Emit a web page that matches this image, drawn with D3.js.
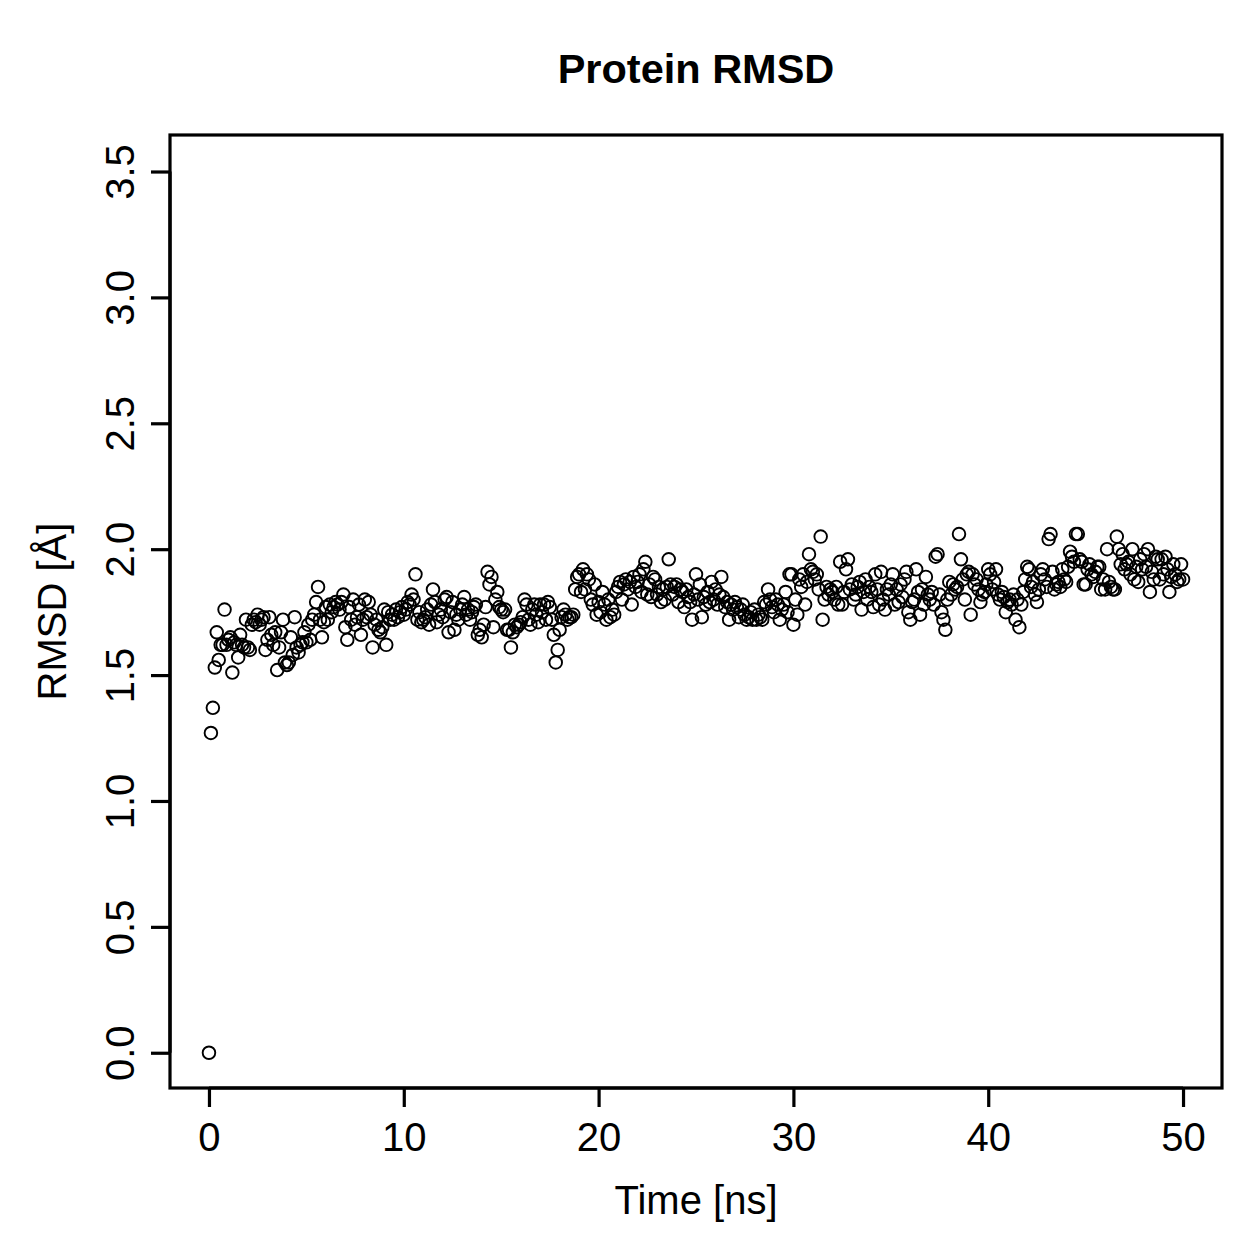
<!DOCTYPE html>
<html><head><meta charset="utf-8">
<script src="https://cdn.jsdelivr.net/npm/d3@7"></script>
<style>body{margin:0;background:#fff}</style>
</head><body>
<script>
const titleText = "Protein RMSD";
const xLabel = "Time [ns]";
const yLabel = "RMSD [Å]";
const xTicks = [0, 10, 20, 30, 40, 50];
const yTicks = [0.0, 0.5, 1.0, 1.5, 2.0, 2.5, 3.0, 3.5];
const timeStep = 0.1;
const rmsd = [
0.00,1.27,1.37,1.53,1.67,1.56,1.62,1.62,1.76,1.62,
1.64,1.65,1.51,1.63,1.62,1.57,1.66,1.62,1.61,1.72,
1.61,1.60,1.70,1.72,1.71,1.74,1.70,1.72,1.73,1.60,
1.64,1.73,1.66,1.62,1.67,1.52,1.61,1.67,1.72,1.55,
1.54,1.55,1.65,1.58,1.73,1.61,1.59,1.62,1.63,1.67,
1.63,1.70,1.64,1.72,1.74,1.79,1.85,1.72,1.65,1.71,
1.77,1.72,1.78,1.75,1.77,1.79,1.78,1.76,1.79,1.82,
1.69,1.64,1.77,1.72,1.80,1.70,1.73,1.78,1.66,1.72,
1.80,1.73,1.79,1.74,1.61,1.70,1.72,1.68,1.67,1.69,
1.76,1.62,1.75,1.72,1.74,1.72,1.76,1.73,1.75,1.77,
1.74,1.76,1.79,1.78,1.82,1.80,1.90,1.72,1.75,1.71,
1.72,1.73,1.76,1.70,1.78,1.84,1.79,1.71,1.74,1.76,
1.73,1.80,1.81,1.67,1.75,1.79,1.68,1.74,1.72,1.76,
1.78,1.81,1.74,1.76,1.72,1.75,1.77,1.78,1.66,1.68,
1.65,1.70,1.77,1.91,1.86,1.89,1.69,1.80,1.83,1.77,
1.76,1.75,1.76,1.68,1.68,1.61,1.67,1.70,1.69,1.70,
1.71,1.73,1.80,1.78,1.72,1.70,1.76,1.78,1.74,1.71,
1.78,1.75,1.78,1.72,1.79,1.77,1.72,1.66,1.55,1.60,
1.68,1.73,1.76,1.74,1.72,1.73,1.73,1.74,1.84,1.89,
1.90,1.83,1.92,1.84,1.90,1.88,1.80,1.78,1.86,1.74,
1.79,1.75,1.83,1.78,1.72,1.80,1.73,1.76,1.74,1.83,
1.85,1.87,1.80,1.86,1.88,1.84,1.87,1.78,1.89,1.85,
1.87,1.90,1.83,1.92,1.95,1.82,1.86,1.81,1.89,1.88,
1.82,1.85,1.79,1.84,1.80,1.85,1.96,1.86,1.82,1.85,
1.86,1.79,1.84,1.83,1.77,1.84,1.81,1.79,1.72,1.82,
1.90,1.80,1.86,1.73,1.81,1.78,1.83,1.79,1.87,1.80,
1.84,1.78,1.82,1.89,1.81,1.77,1.79,1.72,1.78,1.76,
1.79,1.77,1.73,1.76,1.78,1.74,1.72,1.73,1.75,1.72,
1.76,1.72,1.74,1.73,1.72,1.79,1.78,1.84,1.80,1.77,
1.75,1.80,1.78,1.72,1.76,1.78,1.83,1.75,1.90,1.90,
1.70,1.80,1.74,1.88,1.85,1.90,1.78,1.87,1.98,1.92,
1.91,1.88,1.90,1.84,2.05,1.72,1.80,1.85,1.82,1.84,
1.83,1.80,1.85,1.78,1.95,1.78,1.83,1.92,1.96,1.84,
1.86,1.80,1.82,1.85,1.87,1.76,1.83,1.88,1.80,1.85,
1.83,1.77,1.90,1.84,1.78,1.91,1.80,1.76,1.84,1.82,
1.86,1.90,1.78,1.84,1.79,1.86,1.81,1.88,1.91,1.75,
1.72,1.79,1.80,1.92,1.83,1.74,1.84,1.78,1.89,1.82,
1.80,1.83,1.78,1.97,1.98,1.82,1.75,1.72,1.68,1.80,
1.87,1.82,1.86,1.84,1.85,2.06,1.96,1.88,1.80,1.90,
1.91,1.74,1.90,1.86,1.88,1.84,1.79,1.82,1.83,1.86,
1.92,1.90,1.84,1.87,1.92,1.82,1.80,1.83,1.81,1.75,
1.79,1.80,1.78,1.82,1.72,1.80,1.69,1.78,1.83,1.88,
1.93,1.92,1.85,1.87,1.82,1.79,1.84,1.90,1.92,1.88,
1.85,2.04,2.06,1.91,1.84,1.86,1.87,1.85,1.92,1.88,
1.87,1.93,1.99,1.97,1.95,2.06,2.06,1.96,1.95,1.86,
1.86,1.92,1.94,1.90,1.89,1.91,1.93,1.93,1.84,1.88,
1.84,2.00,1.87,1.85,1.84,1.84,2.05,2.00,1.94,1.98,
1.92,1.94,1.95,1.90,2.00,1.88,1.93,1.87,1.96,1.92,
1.98,1.93,2.00,1.83,1.91,1.88,1.97,1.96,1.88,1.96,
1.90,1.97,1.92,1.83,1.89,1.94,1.90,1.87,1.88,1.94,
1.88
];
const data = rmsd.map((v, i) => ({t: +(i * timeStep).toFixed(1), r: v}));

const W = 1259, H = 1259;
const box = {left: 170, right: 1222, top: 135, bottom: 1088};
const font = "'Liberation Sans', Arial, Helvetica, sans-serif";

const svg = d3.select("body").append("svg").attr("width", W).attr("height", H)
  .style("background", "#fff");

// R-style 4% domain extension
const x = d3.scaleLinear().domain([-2, 52]).range([box.left, box.right]);
const y = d3.scaleLinear().domain([-0.14, 3.645]).range([box.bottom, box.top]);

// points
svg.append("g").selectAll("circle").data(data).enter().append("circle")
  .attr("cx", d => x(d.t)).attr("cy", d => y(d.r)).attr("r", 6.3)
  .attr("fill", "none").attr("stroke", "#000").attr("stroke-width", 1.9);

// box
svg.append("rect").attr("x", box.left).attr("y", box.top)
  .attr("width", box.right - box.left).attr("height", box.bottom - box.top)
  .attr("fill", "none").attr("stroke", "#000").attr("stroke-width", 3.2);

// x axis
const xAxis = d3.axisBottom(x).tickValues(xTicks).tickSize(19).tickPadding(16)
  .tickFormat(d3.format("d"));
const gx = svg.append("g").attr("transform", `translate(0,${box.bottom})`).call(xAxis);
gx.select(".domain").attr("d", `M${x(0)},0H${x(50)}`).attr("stroke-width", 3.2);
gx.selectAll(".tick line").attr("stroke-width", 3.2);
gx.selectAll("text").attr("font-family", font).attr("font-size", 40).attr("fill", "#000");

// y axis
const yAxis = d3.axisLeft(y).tickValues(yTicks).tickSize(19).tickPadding(8)
  .tickFormat(d3.format(".1f"));
const gy = svg.append("g").attr("transform", `translate(${box.left},0)`).call(yAxis);
gy.select(".domain").attr("d", `M0,${y(0)}V${y(3.5)}`).attr("stroke-width", 3.2);
gy.selectAll(".tick line").attr("stroke-width", 3.2);
gy.selectAll("text").attr("font-family", font).attr("font-size", 40).attr("fill", "#000")
  .attr("x", null).attr("dy", null)
  .attr("transform", "translate(-36,0) rotate(-90)")
  .attr("text-anchor", "middle");

// title
svg.append("text").attr("x", (box.left + box.right) / 2).attr("y", 83)
  .attr("text-anchor", "middle").attr("font-family", font).attr("font-weight", "bold")
  .attr("font-size", 41.5).text(titleText);

// axis labels
svg.append("text").attr("x", (box.left + box.right) / 2).attr("y", 1214)
  .attr("text-anchor", "middle").attr("font-family", font).attr("font-size", 40).text(xLabel);
svg.append("text").attr("transform", `translate(66,${(box.top + box.bottom) / 2}) rotate(-90)`)
  .attr("text-anchor", "middle").attr("font-family", font).attr("font-size", 40).text(yLabel);
</script>
</body></html>
